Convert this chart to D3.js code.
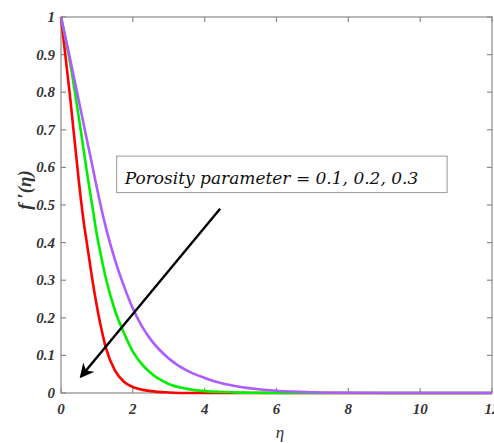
<!DOCTYPE html>
<html>
<head>
<meta charset="utf-8">
<script src="https://cdn.jsdelivr.net/npm/d3@7"></script>
<style>
  body { margin: 0; background: #fff; }
  svg { display: block; }
</style>
</head>
<body>
<div id="chart"></div>
<script>
'use strict'

// Values
const eta = [0, 0.25, 0.5, 0.625, 0.75, 0.875, 1, 1.125, 1.25, 1.5, 1.75, 2, 2.25, 2.5, 3, 3.5, 4, 4.5, 5, 5.5, 6, 7, 8, 9, 10, 12]
const porosity01 = [1, 0.79, 0.56, 0.46, 0.38, 0.30, 0.23, 0.17, 0.12, 0.06, 0.03, 0.016, 0.009, 0.005, 0.0015, 0, 0, 0, 0, 0, 0, 0, 0, 0, 0, 0]
const porosity02 = [1, 0.88, 0.73, 0.65, 0.57, 0.495, 0.42, 0.36, 0.305, 0.22, 0.16, 0.11, 0.077, 0.053, 0.024, 0.011, 0.005, 0.0025, 0.001, 0.0005, 0, 0, 0, 0, 0, 0]
const porosity03 = [1, 0.89, 0.775, 0.718, 0.66, 0.603, 0.545, 0.49, 0.44, 0.355, 0.285, 0.225, 0.178, 0.142, 0.092, 0.06, 0.04, 0.025, 0.016, 0.01, 0.006, 0.002, 0.0005, 0, 0, 0]
const seriesColors = ['#ff0000', '#00ee00', '#ad5cff']
const xTicks = [0, 2, 4, 6, 8, 10, 12]
const yTicks = [0, 0.1, 0.2, 0.3, 0.4, 0.5, 0.6, 0.7, 0.8, 0.9, 1]
const annotation = 'Porosity parameter = 0.1, 0.2, 0.3'

const width = 494,
  height = 443,
  plotLeft = 61,
  plotRight = 492,
  plotTop = 17,
  plotBottom = 393

const svg = d3.select('#chart')
  .append('svg')
  .attr('width', width)
  .attr('height', height)

const x = d3.scaleLinear().domain([0, 12]).range([plotLeft, plotRight])
const y = d3.scaleLinear().domain([0, 1]).range([plotBottom, plotTop])

const axisColor = '#8a8a8a'
const tickFont = '"Liberation Serif", "DejaVu Serif", serif'

// box frame
svg.append('rect')
  .attr('x', plotLeft).attr('y', plotTop)
  .attr('width', plotRight - plotLeft).attr('height', plotBottom - plotTop)
  .attr('fill', 'none')
  .attr('stroke', axisColor)
  .attr('stroke-width', 1.2)

// inward ticks on all four sides
let ticks = svg.append('g').attr('stroke', axisColor).attr('stroke-width', 1.2)
xTicks.forEach((t) => {
  ticks.append('line').attr('x1', x(t)).attr('x2', x(t)).attr('y1', plotBottom).attr('y2', plotBottom - 5)
  ticks.append('line').attr('x1', x(t)).attr('x2', x(t)).attr('y1', plotTop).attr('y2', plotTop + 5)
})
yTicks.forEach((t) => {
  ticks.append('line').attr('x1', plotLeft).attr('x2', plotLeft + 5).attr('y1', y(t)).attr('y2', y(t))
  ticks.append('line').attr('x1', plotRight).attr('x2', plotRight - 5).attr('y1', y(t)).attr('y2', y(t))
})

// tick labels
svg.append('g').selectAll('text')
  .data(xTicks)
  .enter()
  .append('text')
  .attr('x', (d) => x(d))
  .attr('y', plotBottom + 21)
  .attr('text-anchor', 'middle')
  .attr('font-family', tickFont)
  .attr('font-style', 'italic')
  .attr('font-weight', 'bold')
  .attr('font-size', 15)
  .attr('fill', '#333')
  .text((d) => d)

svg.append('g').selectAll('text')
  .data(yTicks)
  .enter()
  .append('text')
  .attr('x', plotLeft - 6)
  .attr('y', (d) => y(d) + 5)
  .attr('text-anchor', 'end')
  .attr('font-family', tickFont)
  .attr('font-style', 'italic')
  .attr('font-weight', 'bold')
  .attr('font-size', 15)
  .attr('fill', '#333')
  .text((d) => d)

// axis titles
svg.append('text')
  .attr('x', x(6.1))
  .attr('y', 438)
  .attr('text-anchor', 'middle')
  .attr('font-family', tickFont)
  .attr('font-style', 'italic')
  .attr('font-size', 17)
  .attr('fill', '#333')
  .text('η')

svg.append('text')
  .attr('transform', 'translate(31,' + y(0.54) + ') rotate(-90)')
  .attr('text-anchor', 'middle')
  .attr('font-family', tickFont)
  .attr('font-style', 'italic')
  .attr('font-weight', 'bold')
  .attr('font-size', 19)
  .attr('fill', '#333')
  .text('f ′(η)')

// curves
const line = d3.line()
  .x((d) => x(d[0]))
  .y((d) => y(d[1]))
  .curve(d3.curveMonotoneX)

const series = [porosity01, porosity02, porosity03]
svg.append('g').selectAll('path')
  .data(series)
  .enter()
  .append('path')
  .attr('d', (s) => line(eta.map((e, i) => [e, s[i]])))
  .attr('fill', 'none')
  .attr('stroke', (d, i) => seriesColors[i])
  .attr('stroke-width', 2.6)

// annotation box
const boxX = x(1.55), boxY = y(0.63)
svg.append('rect')
  .attr('x', boxX).attr('y', boxY)
  .attr('width', x(10.75) - boxX)
  .attr('height', y(0.533) - boxY)
  .attr('fill', '#fff')
  .attr('stroke', '#999')
  .attr('stroke-width', 1)

svg.append('text')
  .attr('x', boxX + 8)
  .attr('y', y(0.556))
  .attr('font-family', '"DejaVu Serif", serif')
  .attr('font-style', 'italic')
  .attr('font-size', 17)
  .attr('fill', '#111')
  .text(annotation)

// arrow
svg.append('defs').append('marker')
  .attr('id', 'head')
  .attr('viewBox', '0 0 10 10')
  .attr('refX', 8).attr('refY', 5)
  .attr('markerWidth', 6).attr('markerHeight', 6)
  .attr('orient', 'auto')
  .append('path')
  .attr('d', 'M0,0 L10,5 L0,10 L3,5 Z')
  .attr('fill', '#000')

svg.append('line')
  .attr('x1', x(4.43)).attr('y1', y(0.49))
  .attr('x2', x(0.57)).attr('y2', y(0.045))
  .attr('stroke', '#000')
  .attr('stroke-width', 2.4)
  .attr('marker-end', 'url(#head)')
</script>
</body>
</html>
